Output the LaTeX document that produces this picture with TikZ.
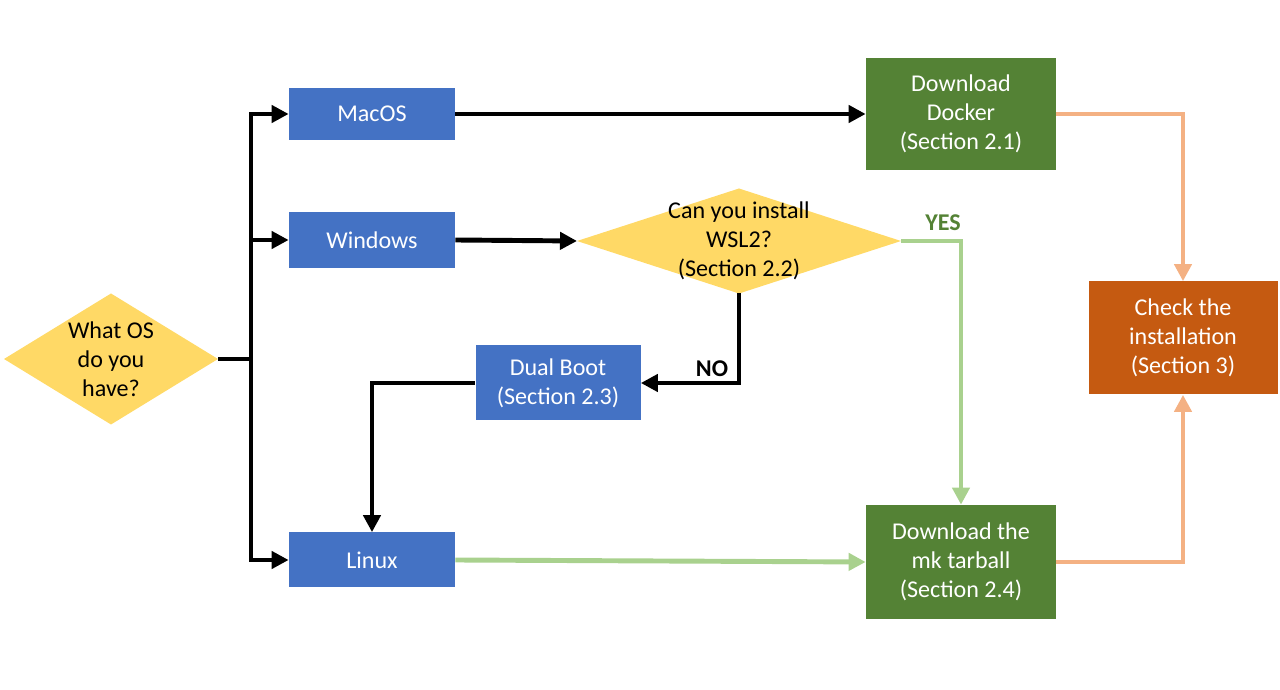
\documentclass[tikz,border=0pt]{standalone}
\usepackage{fontspec}
\setmainfont{Carlito}
\usepackage{tikz}
\usetikzlibrary{shapes.geometric, arrows.meta, positioning, calc}

\definecolor{osblue}{HTML}{4472C4}
\definecolor{askyellow}{HTML}{FFD966}
\definecolor{dlgreen}{HTML}{548235}
\definecolor{chkorange}{HTML}{C55A11}
\definecolor{yesgreen}{HTML}{A9D18E}
\definecolor{toorange}{HTML}{F4B183}

\begin{document}
\begin{tikzpicture}[
	every node/.style={font=\fontsize{13.7}{16.6}\selectfont, align=center},
	osbox/.style={fill=osblue, text=white, minimum width=3.32cm, inner sep=0pt},
	dlbox/.style={fill=dlgreen, text=white, minimum width=3.8cm, minimum height=2.26cm, inner sep=0pt},
	ask/.style={diamond, fill=askyellow, inner sep=0pt, outer sep=0pt},
	link/.style={line width=2.8pt, -{Triangle[length=0.34cm, width=0.34cm]}}]
	
	\useasboundingbox (0,0) rectangle (25.6,13.8);
	
	%//questions
	\node [ask, minimum width=4.28cm, minimum height=2.62cm, label=center:{What OS\\do you\\have?}] (os) at (2.22,6.62) {};
	\node [ask, minimum width=6.48cm, minimum height=2.1cm, label=center:{Can you install\\WSL2?\\(Section 2.2)}] (wsl) at (14.78,8.98) {};
	
	%//systems
	\node [osbox, minimum height=1.04cm] (mac) at (7.44,11.52) {MacOS};
	\node [osbox, minimum height=1.12cm] (win) at (7.44,9.00) {Windows};
	\node [osbox, minimum height=1.10cm] (linux) at (7.44,2.60) {Linux};
	\node [osbox, minimum width=3.3cm, minimum height=1.5cm] (dual) at (11.16,6.14) {Dual Boot\\(Section 2.3)};
	
	%//downloads and check
	\node [dlbox, minimum height=2.24cm] (docker) at (19.22,11.52) {Download\\Docker\\(Section 2.1)};
	\node [dlbox, minimum height=2.28cm] (tarball) at (19.22,2.56) {Download the\\mk tarball\\(Section 2.4)};
	\node [fill=chkorange, text=white, minimum width=3.78cm, minimum height=2.26cm, inner sep=0pt] (check) at (23.66,7.04) {Check the\\installation\\(Section 3)};
	
	%//branches from the first question
	\coordinate (fork) at (5.02,6.62);
	\draw [line width=2.8pt] (os.east) -- (fork);
	\foreach \target in {mac, win, linux}
	\draw [link] (fork) |- (\target.west);
	
	\draw [link] (mac.east) -- (docker.west);
	\draw [link] (win.east) -- (wsl.west);
	\draw [link] (wsl.south) |- (dual.east);
	\draw [link] (dual.west) -| (linux.north);
	\draw [link, yesgreen] (wsl.east) -| (tarball.north);
	\draw [link, yesgreen] (linux.east) -- (tarball.west);
	\draw [link, toorange] (docker.east) -| (check.north);
	\draw [link, toorange] (tarball.east) -| (check.south);
	
	\node [font=\fontsize{13.7}{16.6}\selectfont\bfseries] (no) at (14.24,6.42) {NO};
	\node [font=\fontsize{13.7}{16.6}\selectfont\bfseries, text=dlgreen] (yes) at (18.86,9.34) {YES};
\end{tikzpicture}
\end{document}
